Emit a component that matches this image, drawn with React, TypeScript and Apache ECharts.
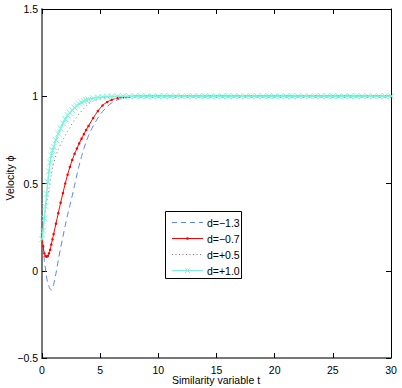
import React, { useEffect, useRef } from "react";
import * as echarts from "echarts";

const T_HEAD = [0, 0.1, 0.2, 0.3, 0.4, 0.5, 0.6, 0.7, 0.8, 0.9, 1.0, 1.2, 1.4, 1.6, 1.8, 2.0, 2.2, 2.4, 2.6, 2.8, 3.0, 3.2, 3.4, 3.6, 3.8, 4.0, 4.4, 4.8, 5.2, 5.6, 6.0, 6.5, 7.0, 7.5, 8.0];
const T_TAIL = [8.5, 9, 9.5, 10, 10.5, 11, 11.5, 12, 12.5, 13, 13.5, 14, 14.5, 15, 15.5, 16, 16.5, 17, 17.5, 18, 18.5, 19, 19.5, 20, 20.5, 21, 21.5, 22, 22.5, 23, 23.5, 24, 24.5, 25, 25.5, 26, 26.5, 27, 27.5, 28, 28.5, 29, 29.5, 30];
const V_TAIL = [1, 1, 1, 1, 1, 1, 1, 1, 1, 1, 1, 1, 1, 1, 1, 1, 1, 1, 1, 1, 1, 1, 1, 1, 1, 1, 1, 1, 1, 1, 1, 1, 1, 1, 1, 1, 1, 1, 1, 1, 1, 1, 1, 1];

const D_M13 = [0.2, 0.13, 0.06, 0.01, -0.04, -0.07, -0.09, -0.105, -0.11, -0.1, -0.08, -0.015, 0.06, 0.13, 0.195, 0.26, 0.32, 0.375, 0.43, 0.49, 0.55, 0.605, 0.655, 0.7, 0.74, 0.775, 0.83, 0.875, 0.912, 0.941, 0.962, 0.98, 0.99, 0.996, 1];
const D_M07 = [0.2, 0.14, 0.1, 0.085, 0.08, 0.085, 0.1, 0.12, 0.15, 0.18, 0.21, 0.27, 0.33, 0.39, 0.445, 0.5, 0.55, 0.595, 0.635, 0.67, 0.7, 0.73, 0.757, 0.783, 0.807, 0.83, 0.875, 0.915, 0.947, 0.967, 0.98, 0.99, 0.995, 0.998, 1];
const D_P05 = [0.2, 0.25, 0.3, 0.35, 0.39, 0.43, 0.47, 0.51, 0.55, 0.585, 0.615, 0.66, 0.695, 0.725, 0.75, 0.775, 0.8, 0.82, 0.845, 0.864, 0.88, 0.9, 0.915, 0.93, 0.945, 0.958, 0.972, 0.982, 0.989, 0.993, 0.996, 0.998, 0.999, 1, 1];
const D_P10 = [0.18, 0.23, 0.3, 0.37, 0.44, 0.51, 0.57, 0.62, 0.66, 0.69, 0.71, 0.75, 0.785, 0.815, 0.845, 0.868, 0.89, 0.905, 0.92, 0.935, 0.947, 0.957, 0.965, 0.972, 0.978, 0.982, 0.988, 0.993, 0.996, 0.998, 0.999, 1, 1, 1, 1];

const NAMES = ["d=\u22121.3", "d=\u22120.7", "d=+0.5", "d=+1.0"];
const X_TITLE = "Similarity variable t";
const Y_TITLE = "Velocity \u03d5";

const COL_BLUE = "#5a85f7";
const COL_RED = "#ff0000";
const COL_GRAY = "#777777";
const COL_CYAN = "#7cf2da";

const T_ALL = T_HEAD.concat(T_TAIL);
const pairs = (vals: number[]) => {
  const v = vals.concat(V_TAIL);
  return T_ALL.map((t, i) => [t, v[i]]);
};

const FONT = "Liberation Sans, Arial, Helvetica, sans-serif";
const minus = (v: number) => String(v).replace("-", "\u2212");

function overlayGraphic() {
  const x0 = 165.5;
  const y0 = 211.5;
  const rowY = (i: number) => 221.8 + 15.9 * i;
  const lx1 = 172;
  const lx2 = 203;
  const cx = (lx1 + lx2) / 2;
  const els: any[] = [
    {
      type: "rect",
      shape: { x: x0, y: y0, width: 76, height: 67 },
      style: { fill: "#fff", stroke: "#000", lineWidth: 1 },
      z: 100,
    },
  ];
  const styles = [
    { stroke: COL_BLUE, lineWidth: 1, lineDash: [5, 4] },
    { stroke: COL_RED, lineWidth: 1 },
    { stroke: COL_GRAY, lineWidth: 1, lineDash: [1, 2.5] },
    { stroke: COL_CYAN, lineWidth: 1 },
  ];
  NAMES.forEach((n, i) => {
    const y = Math.round(rowY(i)) + 0.5;
    els.push({
      type: "line",
      shape: { x1: lx1, y1: y, x2: lx2, y2: y },
      style: styles[i],
      z: 101,
    });
    els.push({
      type: "text",
      x: 207,
      y,
      style: { text: n, fill: "#000", font: `10.5px ${FONT}`, textVerticalAlign: "middle", textAlign: "left" },
      z: 101,
    });
  });
  els.push({
    type: "circle",
    shape: { cx, cy: Math.round(rowY(1)) + 0.5, r: 1.3 },
    style: { fill: COL_RED },
    z: 102,
  });
  const cy3 = Math.round(rowY(3)) + 0.5;
  els.push({
    type: "polyline",
    shape: { points: [[cx - 2.5, cy3 - 2.5], [cx + 2.5, cy3 + 2.5]] },
    style: { stroke: COL_CYAN, lineWidth: 1, fill: "none" },
    z: 102,
  });
  els.push({
    type: "polyline",
    shape: { points: [[cx + 2.5, cy3 - 2.5], [cx - 2.5, cy3 + 2.5]] },
    style: { stroke: COL_CYAN, lineWidth: 1, fill: "none" },
    z: 102,
  });
  els.push({
    type: "text",
    x: 9.5,
    y: 178,
    rotation: Math.PI / 2,
    style: { text: Y_TITLE, fill: "#000", font: `10.5px ${FONT}`, textAlign: "center", textVerticalAlign: "middle" },
    z: 101,
  });
  els.push({
    type: "text",
    x: 216,
    y: 380,
    style: { text: X_TITLE, fill: "#000", font: `10.5px ${FONT}`, textAlign: "center", textVerticalAlign: "middle" },
    z: 101,
  });
  return els;
}

export default function App() {
  const ref = useRef<HTMLDivElement>(null);
  useEffect(() => {
    if (!ref.current) return;
    const chart = echarts.init(ref.current, undefined, { renderer: "svg" });
    const axisLbl = { color: "#000", fontSize: 10.5, fontFamily: FONT };
    chart.setOption({
      animation: false,
      backgroundColor: "#fff",
      grid: { left: 42, right: 11, top: 9, bottom: 30, containLabel: false, outerBoundsMode: "none" },
      graphic: overlayGraphic(),
      xAxis: [
        {
          type: "value",
          min: 0,
          max: 30,
          interval: 5,
          axisLine: { onZero: false, lineStyle: { color: "#777", width: 2 } },
          axisTick: { inside: true, length: 5, lineStyle: { color: "#000" } },
          axisLabel: { ...axisLbl, margin: 6 },
          splitLine: { show: false },
        },
        {
          type: "value",
          position: "top",
          min: 0,
          max: 30,
          interval: 5,
          axisLine: { onZero: false, lineStyle: { color: "#000", width: 1 } },
          axisTick: { inside: true, length: 5, lineStyle: { color: "#000" } },
          axisLabel: { show: false },
          splitLine: { show: false },
        },
      ],
      yAxis: [
        {
          type: "value",
          min: -0.5,
          max: 1.5,
          interval: 0.5,
          axisLine: { onZero: false, lineStyle: { color: "#777", width: 2 } },
          axisTick: { inside: true, length: 5, lineStyle: { color: "#000" } },
          axisLabel: { ...axisLbl, margin: 4, formatter: (v: number) => minus(v) },
          splitLine: { show: false },
        },
        {
          type: "value",
          position: "right",
          min: -0.5,
          max: 1.5,
          interval: 0.5,
          axisLine: { onZero: false, lineStyle: { color: "#000", width: 1 } },
          axisTick: { inside: true, length: 5, lineStyle: { color: "#000" } },
          axisLabel: { show: false },
          splitLine: { show: false },
        },
      ],
      series: [
        {
          name: NAMES[0],
          type: "line",
          data: pairs(D_M13),
          symbol: "none",
          smooth: 0.3,
          lineStyle: { color: COL_BLUE, width: 1, type: [6, 4] },
          itemStyle: { color: COL_BLUE },
          z: 2,
        },
        {
          name: NAMES[1],
          type: "line",
          data: pairs(D_M07),
          symbol: "circle",
          symbolSize: 2.5,
          showSymbol: true,
          smooth: 0.3,
          lineStyle: { color: COL_RED, width: 1 },
          itemStyle: { color: COL_RED },
          z: 3,
        },
        {
          name: NAMES[2],
          type: "line",
          data: pairs(D_P05),
          symbol: "none",
          smooth: 0.3,
          lineStyle: { color: COL_GRAY, width: 1, type: [1, 3] },
          itemStyle: { color: COL_GRAY },
          z: 4,
        },
        {
          name: NAMES[3],
          type: "line",
          data: pairs(D_P10),
          symbol: "path://M0,0L10,10M10,0L0,10",
          symbolSize: 6,
          showSymbol: true,
          smooth: 0.3,
          lineStyle: { color: COL_CYAN, width: 1.5 },
          itemStyle: { color: "none", borderColor: COL_CYAN, borderWidth: 1 },
          z: 5,
        },
      ],
    });
    return () => chart.dispose();
  }, []);
  return (
    <div
      ref={ref}
      style={{ position: "fixed", left: 0, top: 0, width: 402, height: 388, background: "#fff" }}
    />
  );
}
